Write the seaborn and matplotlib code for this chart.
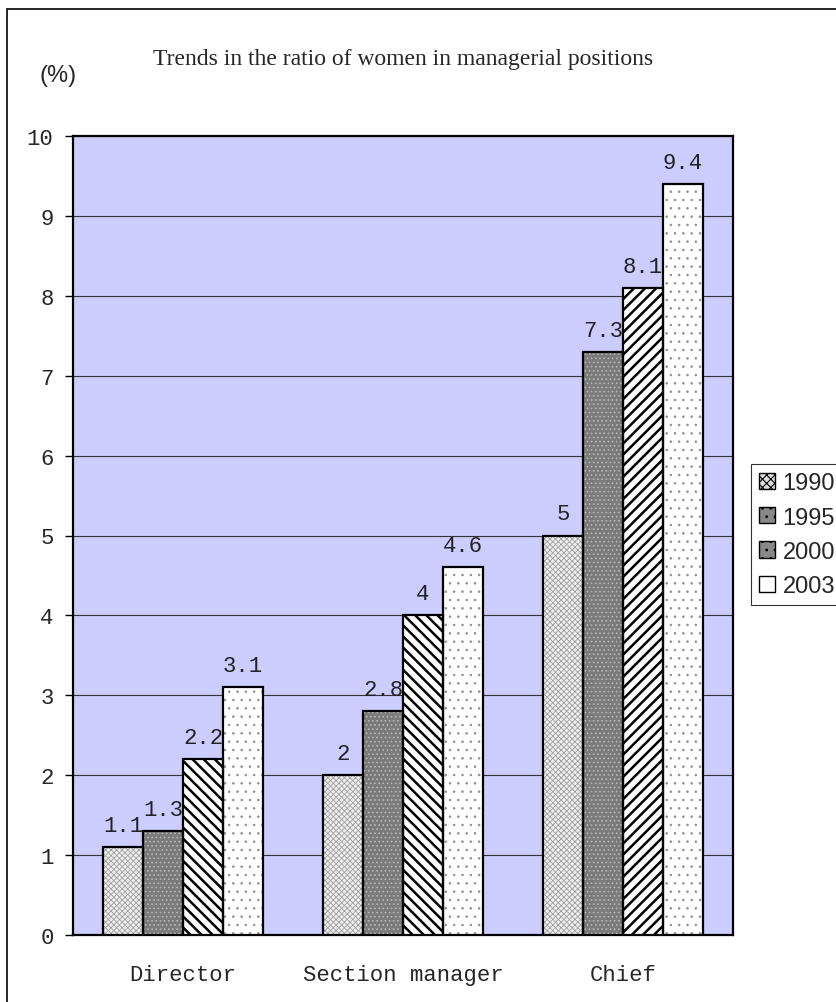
import numpy as np
import pandas as pd
import seaborn as sns
import matplotlib.pyplot as plt
from matplotlib.patches import Rectangle, Patch

# %% data
positions = ['Director', 'Section manager', 'Chief']
years = ['1990', '1995', '2000', '2003']
v1990 = [1.1, 2.0, 5.0]
v1995 = [1.3, 2.8, 7.3]
v2000 = [2.2, 4.0, 8.1]
v2003 = [3.1, 4.6, 9.4]

df = pd.DataFrame({'position': positions * 4,
                   'year': np.repeat(years, 3),
                   'ratio': v1990 + v1995 + v2000 + v2003})

# %% style
sns.set_style('white')
plt.rcParams['font.family'] = ['Liberation Mono', 'DejaVu Sans']
plt.rcParams['hatch.linewidth'] = 0.8

fig = plt.figure(figsize=(8.37, 10.03), dpi=100)
ax = fig.add_axes([73/837, 1-936/1003, 660/837, 799/1003])
ax.set_facecolor('#ccccff')

sns.barplot(data=df, x='position', y='ratio', hue='year', ax=ax,
            width=0.727, legend=False, zorder=3)

# per year: face, hatch, hatch colour, hatch width
styles = {'1990': ('#eeeeee', 'xxxxxx', '#a0a0a0', 0.6),
          '1995': ('#7a7a7a', '....', '#b8b8b8', 0.7),
          '2000': ('white', '\\\\\\', 'black', 1.8),
          '2003': ('white', '..', '#909090', 0.6)}

for cont, yr in zip(ax.containers, years):
    fc, h, hc, hw = styles[yr]
    for i, p in enumerate(cont.patches):
        hh = h
        if yr == '2000' and i == 2:
            hh = '///'  # chief bar hatched the other way
        p.set_facecolor(fc)
        p.set_hatch(hh)
        p.set_edgecolor(hc)
        p.set_linewidth(0)
        if hasattr(p, 'set_hatch_linewidth'):
            p.set_hatch_linewidth(hw)
        ax.add_patch(Rectangle((p.get_x(), p.get_y()), p.get_width(), p.get_height(),
                               fill=False, edgecolor='black', linewidth=1.6, zorder=4))
    ax.bar_label(cont, labels=[f'{v:g}' for v in cont.datavalues], padding=8,
                 fontsize=16, color='#222222', zorder=5)

ax.set_ylim(0, 10)
ax.set_xlim(-0.5, 2.5)
ax.set_yticks(range(0, 11))
ax.yaxis.grid(True, color='#333333', linewidth=0.8, zorder=1)
ax.set_axisbelow(True)
ax.set_xlabel('')
ax.set_ylabel('')

ax.set_xticks([-0.5, 0.5, 1.5, 2.5], minor=True)
ax.tick_params(axis='x', which='major', length=0, pad=21, labelsize=16)
ax.tick_params(axis='x', which='minor', length=14, width=1, direction='inout', color='#555555')
ax.tick_params(axis='y', which='major', length=6, width=1, direction='out', pad=8,
               labelsize=16, color='black', left=True)

for s in ax.spines.values():
    s.set_linewidth(1.6)
    s.set_color('black')

# legend
handles = [Patch(facecolor='#dddddd', hatch='xxxx', edgecolor='black'),
           Patch(facecolor='#888888', hatch='..', edgecolor='black'),
           Patch(facecolor='#888888', hatch='..', edgecolor='black'),
           Patch(facecolor='white', edgecolor='black')]
leg = fig.legend(handles, years, loc='upper left', bbox_to_anchor=(751/837, 1-465/1003),
                 prop={'family': 'Liberation Sans', 'size': 17}, frameon=True,
                 fancybox=False, handlelength=0.68, handleheight=0.68,
                 handletextpad=0.3, labelspacing=0.52, borderpad=0.35, borderaxespad=0)
leg.get_frame().set_edgecolor('black')
leg.get_frame().set_linewidth(0.8)

# title and unit
fig.text(403/837, 1-60/1003, 'Trends in the ratio of women in managerial positions',
         family='Liberation Serif', fontsize=17, ha='center', va='center')
fig.text(58/837, 1-76/1003, '(%)', family='Liberation Sans', fontsize=17,
         ha='center', va='center')

# outer frame
fig.patches.append(Rectangle((7/837, -0.05), 1.0, 1.05 - 10/1003, transform=fig.transFigure,
                             fill=False, edgecolor='black', linewidth=1.2))

fig.savefig('out.png', dpi=100)
